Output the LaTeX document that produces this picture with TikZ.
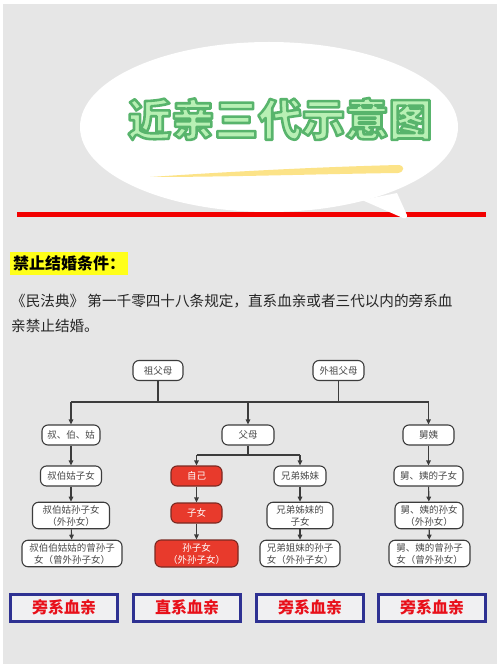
\documentclass[tikz,border=0pt]{standalone}
\usepackage{fontspec}
\setmainfont{Noto Sans CJK SC}
\usetikzlibrary{arrows.meta,calc}
\definecolor{bg}{HTML}{E6E6E6}
\definecolor{tfill}{HTML}{B8F0B4}
\definecolor{tline}{HTML}{58B46C}
\definecolor{brush}{HTML}{FCE388}
\definecolor{redline}{HTML}{F20000}
\definecolor{hl}{HTML}{FFFF1A}
\definecolor{ndline}{HTML}{3C3C3C}
\definecolor{ndtext}{HTML}{4A4A4A}
\definecolor{rfill}{HTML}{E83A2C}
\definecolor{rline}{HTML}{7A2A22}
\definecolor{bline}{HTML}{2E3192}
\definecolor{btext}{HTML}{E8101A}
\definecolor{bfill}{HTML}{F0F0F2}
\newcommand{\outlinetext}[1]{\special{pdf:literal direct 2 Tr 2.6 w 1 j 0.345 0.706 0.424 RG}#1\special{pdf:literal direct 0 Tr}}
\begin{document}
\begin{tikzpicture}[x=1pt,y=-1pt,
  nd/.style={draw=ndline,line width=1.1pt,fill=white,rounded corners=6pt,minimum height=20pt,inner sep=1.5pt,text=ndtext,font=\fontsize{9.5}{12}\selectfont,align=center},
  nd2/.style={nd,minimum height=26.5pt},
  rd/.style={nd,fill=rfill,draw=rline,text=white},
  rd2/.style={rd,minimum height=27pt},
  ln/.style={draw=ndline,line width=1.1pt},
  arr/.style={ln,-{Triangle[length=5pt,width=4.5pt]}},
  bb/.style={draw=bline,line width=3pt,fill=bfill,minimum width=107pt,minimum height=27pt,inner sep=0pt,text=btext,font=\fontsize{16}{18}\selectfont\bfseries},
  ttl/.style={font=\fontsize{43.5}{46}\selectfont\bfseries}
]
\useasboundingbox (0,0) rectangle (500,668);
\fill[white] (0,0) rectangle (500,668);
\fill[bg] (3,4) rectangle (497,664);
% speech bubble
\fill[white] (269,127) ellipse [x radius=189, y radius=85];
\fill[redline] (17,212) rectangle (486,217);
\fill[white] (362,200) -- (403,218) .. controls (407,219) and (408,216) .. (406,213) -- (397,193) -- cycle;
% brush stroke
\fill[brush] (150,177) .. controls (240,171) and (320,167) .. (398,165) .. controls (405,165) and (405,172) .. (398,173) .. controls (320,174) and (230,177) .. (150,177) -- cycle;
% title
\node[ttl,text=tfill] (title) at (280,119) {\outlinetext{近亲三代示意图}};
% heading
\node[fill=hl,anchor=west,minimum height=23pt,inner xsep=3pt,inner ysep=0pt,text width=112pt,align=left,font=\fontsize{16}{18}\selectfont\bfseries] (head) at (10,263.5) {禁止结婚条件：};
\node[anchor=north west,align=left,inner sep=0pt,text=black!85,font=\fontsize{14.6}{25}\selectfont] (para) at (11,294) {《民法典》 第一千零四十八条规定，直系血亲或者三代以内的旁系血\\亲禁止结婚。};
% tree nodes
\node[nd,minimum width=50pt] (gp) at (158,370.5) {祖父母};
\node[nd,minimum width=51pt] (mgp) at (338.5,370.5) {外祖父母};
\node[nd,minimum width=58pt] (ub) at (71,435) {叔、伯、姑};
\node[nd,minimum width=52pt] (fm) at (248,435) {父母};
\node[nd,minimum width=51pt] (jy) at (428.5,435) {舅姨};
\node[nd,minimum width=61pt] (ub1) at (71,476) {叔伯姑子女};
\node[rd,minimum width=51pt] (me) at (196.5,476) {自己};
\node[nd,minimum width=52pt] (sib) at (300,476) {兄弟姊妹};
\node[nd,minimum width=69pt] (jy1) at (428.5,476) {舅、姨的子女};
\node[nd2,minimum width=77pt] (ub2) at (71,515.5) {叔伯姑孙子女\\（外孙女）};
\node[rd,minimum width=51pt] (kid) at (196.5,513) {子女};
\node[nd2,minimum width=66pt] (sib2) at (300,515.5) {兄弟姊妹的\\子女};
\node[nd2,minimum width=68pt] (jy2) at (429,515.5) {舅、姨的孙女\\（外孙女）};
\node[nd2,minimum width=100pt] (ub3) at (72,553.5) {叔伯伯姑姑的曾孙子\\女（曾外孙子女）};
\node[rd2,minimum width=83pt] (gk) at (196.5,553.5) {孙子女\\（外孙子女）};
\node[nd2,minimum width=80pt] (sib3) at (300,553.5) {兄弟姐妹的孙子\\女（外孙子女）};
\node[nd2,minimum width=81pt] (jy3) at (429.5,553.5) {舅、姨的曾孙子\\女（曾外孙女）};
% connectors
\coordinate (bar) at (0,402);
\coordinate (bar2) at (0,455);
\draw[ln] (gp.south) -- (gp.south |- bar);
\draw[ln] (mgp.south) -- (mgp.south |- bar);
\draw[ln] (ub.north |- bar) -- (jy.north |- bar);
\draw[arr] (ub.north |- bar) -- (ub.north);
\draw[arr] (fm.north |- bar) -- (fm.north);
\draw[arr] (jy.north |- bar) -- (jy.north);
\draw[ln] (fm.south) -- (fm.south |- bar2);
\draw[ln] (me.north |- bar2) -- (sib.north |- bar2);
\draw[arr] (me.north |- bar2) -- (me.north);
\draw[arr] (sib.north |- bar2) -- (sib.north);
\draw[arr] (ub) -- (ub1);
\draw[arr] (ub1) -- (ub2);
\draw[arr] (ub2) -- (ub3);
\draw[arr] (me) -- (kid);
\draw[arr] (kid) -- (gk);
\draw[arr] (sib) -- (sib2);
\draw[arr] (sib2) -- (sib3);
\draw[arr] (jy) -- (jy1);
\draw[arr] (jy1) -- (jy2);
\draw[arr] (jy2) -- (jy3);
% bottom boxes
\node[bb] (b1) at (64,607.5) {旁系血亲};
\node[bb] (b2) at (187,607.5) {直系血亲};
\node[bb] (b3) at (310,607.5) {旁系血亲};
\node[bb] (b4) at (432,607.5) {旁系血亲};
\end{tikzpicture}
\end{document}
